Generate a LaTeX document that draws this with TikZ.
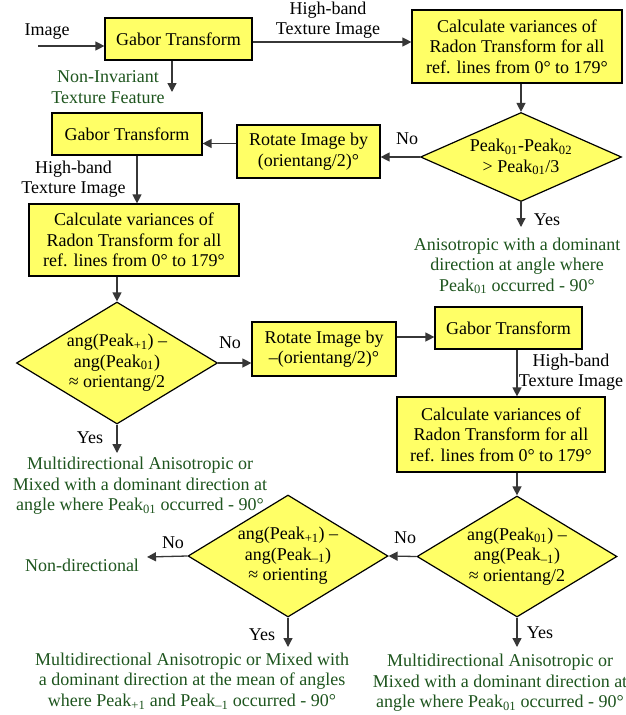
\documentclass[tikz,border=0pt]{standalone}
\usepackage{fontspec}
\setmainfont{Liberation Serif}
\usetikzlibrary{arrows.meta,shapes.geometric}
\definecolor{boxfill}{RGB}{255,255,102}
\definecolor{outgreen}{RGB}{30,85,30}
\definecolor{linegray}{RGB}{55,55,55}
\begin{document}
\begin{tikzpicture}[x=1pt,y=-1pt, font=\fontsize{18}{20.5}\selectfont,
 box/.style={draw=black,line width=1.2pt,fill=boxfill,align=center,inner sep=0pt},
 dia/.style={draw=black,line width=1.2pt,fill=boxfill,diamond,inner sep=0pt},
 arr/.style={draw=linegray,line width=1.3pt,-{Triangle[length=9pt,width=9pt]}},
 lab/.style={align=center,inner sep=0pt},
 outc/.style={lab,text=outgreen}]
\useasboundingbox[fill=white] (0,0) rectangle (626,715);

% boxes
\node[box,minimum width=147pt,minimum height=42pt] (g1) at (178.5,39) {Gabor Transform};
\node[box,minimum width=210pt,minimum height=73pt] (c1) at (517,46.5) {Calculate variances of\\Radon Transform for all\\ref. lines from 0° to 179°};
\node[dia,minimum width=201pt,minimum height=89pt] (d1) at (521,157) {};
\node[lab] (d1t) at (d1) {Peak\textsubscript{01}-Peak\textsubscript{02}\\> Peak\textsubscript{01}/3};
\node[box,minimum width=143pt,minimum height=53pt] (r1) at (308.5,151.5) {Rotate Image by\\(orientang/2)°};
\node[box,minimum width=150pt,minimum height=42pt] (g2) at (127,134) {Gabor Transform};
\node[box,minimum width=210pt,minimum height=72pt] (c2) at (134,240) {Calculate variances of\\Radon Transform for all\\ref. lines from 0° to 179°};
\node[dia,minimum width=201pt,minimum height=122pt] (d2) at (117,363) {};
\node[lab] (d2t) at (d2) {ang(Peak\textsubscript{+1}) –\\ang(Peak\textsubscript{01})\\≈ orientang/2};
\node[box,minimum width=144pt,minimum height=54pt] (r2) at (324,349) {Rotate Image by\\–(orientang/2)°};
\node[box,minimum width=147pt,minimum height=42pt] (g3) at (508.5,328) {Gabor Transform};
\node[box,minimum width=208pt,minimum height=75pt] (c3) at (501,434.5) {Calculate variances of\\Radon Transform for all\\ref. lines from 0° to 179°};
\node[dia,minimum width=200pt,minimum height=121pt] (d3) at (517,556.5) {};
\node[lab] (d3t) at (d3) {ang(Peak\textsubscript{01}) –\\ang(Peak\textsubscript{–1})\\≈ orientang/2};
\node[dia,minimum width=200pt,minimum height=122pt] (d4) at (288,556) {};
\node[lab] (d4t) at (d4) {ang(Peak\textsubscript{+1}) –\\ang(Peak\textsubscript{–1})\\≈ orienting};

% free ends
\coordinate (imgin) at (38,46);
\coordinate (nif) at (172,92);
\coordinate (y1) at (521,227);
\coordinate (y2) at (117,453);
\coordinate (nd) at (147,557);
\coordinate (y4) at (288,647);
\coordinate (y3) at (517,647);

% labels
\node[lab] (limg) at (47,32) {Image};
\node[lab] (lhb1) at (328,20) {High-band\\Texture Image};
\node[outc] (lnif) at (108,87) {Non-Invariant\\Texture Feature};
\node[lab] (lno1) at (407,139) {No};
\node[lab] (lyes1) at (547,220) {Yes};
\node[outc] (o1) at (517,266) {Anisotropic with a dominant\\direction at angle where\\Peak\textsubscript{01} occurred - 90°};
\node[lab] (lhb2) at (73.5,179) {High-band\\Texture Image};
\node[lab] (lno2) at (230,343) {No};
\node[lab] (lyes2) at (90,438) {Yes};
\node[outc] (o2) at (140,486) {Multidirectional Anisotropic or\\Mixed with a dominant direction at\\angle where Peak\textsubscript{01} occurred - 90°};
\node[lab] (lhb3) at (571,372) {High-band\\Texture Image};
\node[lab] (lno3) at (405,538) {No};
\node[lab] (lno4) at (173,543) {No};
\node[outc] (ond) at (82,565) {Non-directional};
\node[lab] (lyes4) at (262,635) {Yes};
\node[outc] (o4) at (192,681) {Multidirectional Anisotropic or Mixed with\\a dominant direction at the mean of angles\\where Peak\textsubscript{+1} and Peak\textsubscript{–1} occurred - 90°};
\node[lab] (lyes3) at (540,633) {Yes};
\node[outc] (o3) at (500,683) {Multidirectional Anisotropic or\\Mixed with a dominant direction at\\angle where Peak\textsubscript{01} occurred - 90°};

% connectors
\draw[arr] (imgin) -- (imgin -| g1.west);
\draw[arr] ([yshift=-3pt]g1.east) -- ([yshift=-3pt]g1.east -| c1.west);
\draw[arr] (g1.south -| nif) -- (nif);
\draw[arr] (d1.north |- c1.south) -- (d1.north);
\draw[arr] (d1.west) -- (d1.west -| r1.east);
\draw[arr] (d1.south) -- (y1);
\draw[arr] ([yshift=8pt]r1.west) -- ([yshift=8pt]r1.west -| g2.east);
\draw[arr] ([xshift=10pt]g2.south) -- ([xshift=10pt]g2.south |- c2.north);
\draw[arr] (d2.north |- c2.south) -- (d2.north);
\draw[arr] (d2.east) -- (d2.east -| r2.west);
\draw[arr] (d2.south) -- (y2);
\draw[arr] ([yshift=12pt]r2.east) -- ([yshift=12pt]r2.east -| g3.west);
\draw[arr] ([xshift=8.5pt]g3.south) -- ([xshift=8.5pt]g3.south |- c3.north);
\draw[arr] (d3.north |- c3.south) -- (d3.north);
\draw[arr] (d3.west) -- (d4.east);
\draw[arr] (d3.south) -- (y3);
\draw[arr] (d4.west) -- (nd);
\draw[arr] (d4.south) -- (y4);
\end{tikzpicture}
\end{document}
